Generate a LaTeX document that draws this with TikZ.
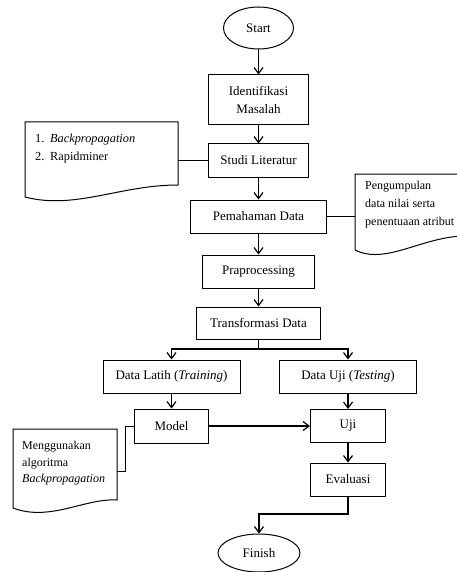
\documentclass[tikz,border=0pt]{standalone}
\usepackage{fontspec}
\setmainfont{Liberation Serif}
\usetikzlibrary{arrows.meta,shapes.geometric}
\begin{document}
\begin{tikzpicture}[x=1pt,y=-1pt,
  box/.style={draw,line width=1pt,inner sep=0pt,align=center,font={\fontsize{13}{18}\selectfont}},
  term/.style={draw,ellipse,line width=1pt,inner sep=0pt,font={\fontsize{13}{18}\selectfont}},
  doctext/.style={inner sep=0pt,align=left,anchor=west},
  conn/.style={line width=1.3pt,-{Straight Barb[length=6pt,width=9pt,line width=1.2pt]}},
  plain/.style={line width=1.1pt},
  docshape/.style={draw,line width=1pt}]
\useasboundingbox (0,0) rectangle (456,572);
% main nodes
\node[term,minimum width=70pt,minimum height=42pt] (start) at (258.5,28) {Start};
\node[box,minimum width=100pt,minimum height=50pt] (iden) at (258.5,100) {Identifikasi\\Masalah};
\node[box,minimum width=100pt,minimum height=33pt] (studi) at (258.5,160.5) {Studi Literatur};
\node[box,minimum width=136pt,minimum height=33pt] (pem) at (258.5,216.5) {Pemahaman Data};
\node[box,minimum width=112pt,minimum height=33pt] (prap) at (258.5,271.5) {Praprocessing};
\node[box,minimum width=124pt,minimum height=32pt] (trans) at (258.5,323) {Transformasi Data};
\node[box,minimum width=137pt,minimum height=33pt] (latih) at (171.5,376.5) {Data Latih (\textit{Training})};
\node[box,minimum width=137pt,minimum height=33pt] (dataUji) at (348,376.5) {Data Uji (\textit{Testing})};
\node[box,minimum width=74pt,minimum height=34pt] (model) at (171.5,426) {Model};
\node[box,minimum width=75pt,minimum height=33pt] (uji) at (348,426) {Uji};
\node[box,minimum width=75pt,minimum height=33pt] (eval) at (348,479.5) {Evaluasi};
\node[term,minimum width=82pt,minimum height=38pt] (finish) at (259,553) {Finish};
% documents
\draw[docshape] (25,122) -- (178,122) -- (178,185) .. controls (120,185) and (75,210) .. (25,197) -- cycle;
\coordinate (d1r) at (178,160.5);
\node[doctext,font={\fontsize{12.3}{18}\selectfont}] (d1t) at (35,149) {\makebox[15pt][l]{1.}\textit{Backpropagation}\\\makebox[15pt][l]{2.}Rapidminer};
\draw[docshape] (355,174) -- (462,174) -- (462,236) .. controls (420,238) and (385,265) .. (355,250) -- cycle;
\coordinate (d2l) at (355,216.5);
\node[doctext,font={\fontsize{12}{18}\selectfont}] (d2t) at (365,205) {Pengumpulan\\data nilai serta\\penentuaan atribut};
\draw[docshape] (13,429) -- (117,429) -- (117,500) .. controls (85,498) and (50,522) .. (13,508) -- cycle;
\coordinate (d3r) at (117,471);
\node[doctext,font={\fontsize{12}{16.5}\selectfont}] (d3t) at (22,463.5) {Menggunakan\\algoritma\\\textit{Backpropagation}};
% connectors
\draw[conn] (start) -- (iden);
\draw[conn] (iden) -- (studi);
\draw[conn] (studi) -- (pem);
\draw[conn] (pem) -- (prap);
\draw[conn] (prap) -- (trans);
\coordinate (split) at (258.5,349);
\draw[plain] (trans.south) -- (split);
\draw[conn] (split) -| (latih.north);
\draw[conn] (split) -| (dataUji.north);
\draw[conn] (latih) -- (model);
\draw[conn] (dataUji) -- (uji);
\draw[conn] (model) -- (uji);
\draw[conn] (uji) -- (eval);
\coordinate (bend) at (348,514);
\draw[conn] (eval.south) -- (bend) -| (finish.north);
\draw[plain] (studi.west) -- (d1r);
\draw[plain] (pem.east) -- (d2l);
\draw[line width=0.8pt] (model.west) -- ++(-9,0) |- (d3r);
\end{tikzpicture}
\end{document}
